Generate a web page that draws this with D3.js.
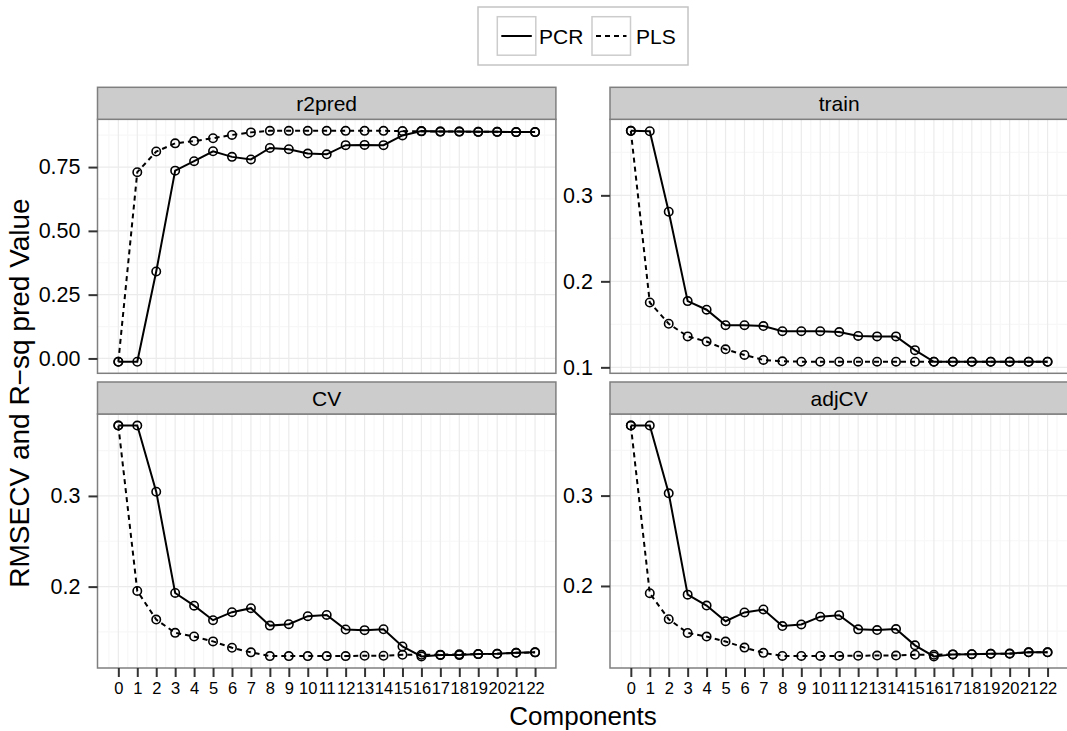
<!DOCTYPE html>
<html>
<head>
<meta charset="utf-8">
<script src="https://cdn.jsdelivr.net/npm/d3@7"></script>
<style>
  html, body { margin: 0; padding: 0; background: #ffffff; }
  svg { display: block; font-family: "Liberation Sans", Arial, Helvetica, sans-serif; }
</style>
</head>
<body>
<svg id="chart" width="1067" height="731"></svg>
<script>
// ---------------- data ----------------
const components = [0,1,2,3,4,5,6,7,8,9,10,11,12,13,14,15,16,17,18,19,20,21,22];
const xTickLabels = ["0","1","2","3","4","5","6","7","8","9","10","11","12","13","14","15","16","17","18","19","20","21","22"];
const facetNames = ["r2pred", "train", "CV", "adjCV"];
const seriesNames = ["PCR", "PLS"];

const r2predPCR = [-0.013,-0.013,0.341,0.736,0.773,0.812,0.790,0.780,0.825,0.820,0.803,0.800,0.836,0.837,0.836,0.874,0.891,0.889,0.889,0.888,0.888,0.887,0.887];
const r2predPLS = [-0.013,0.730,0.811,0.843,0.852,0.863,0.876,0.886,0.892,0.892,0.892,0.892,0.892,0.892,0.892,0.891,0.890,0.889,0.889,0.888,0.888,0.887,0.887];

const trainPCR = [0.375,0.3746,0.281,0.177,0.167,0.149,0.149,0.148,0.142,0.142,0.142,0.141,0.1365,0.136,0.136,0.120,0.1065,0.1065,0.1065,0.1065,0.1065,0.1065,0.1065];
const trainPLS = [0.375,0.1754,0.1507,0.136,0.130,0.121,0.1144,0.1086,0.107,0.1066,0.1066,0.1066,0.1066,0.1066,0.1066,0.1066,0.1065,0.1065,0.1065,0.1065,0.1065,0.1065,0.1065];

const cvPCR = [0.3776,0.3776,0.3047,0.193,0.179,0.163,0.1718,0.1762,0.157,0.1586,0.1674,0.1688,0.1527,0.152,0.153,0.134,0.123,0.1245,0.1245,0.1256,0.126,0.127,0.1275];
const cvPLS = [0.3776,0.1952,0.1637,0.149,0.145,0.1396,0.1326,0.1275,0.1234,0.1234,0.1234,0.1234,0.1234,0.1238,0.1238,0.1248,0.1248,0.125,0.1253,0.1256,0.1259,0.127,0.1275];

const adjcvPCR = [0.3775,0.3775,0.3025,0.1904,0.1783,0.161,0.1707,0.174,0.1556,0.1574,0.166,0.1677,0.152,0.1512,0.1523,0.1343,0.122,0.1243,0.1245,0.125,0.1253,0.1266,0.1266];
const adjcvPLS = [0.3775,0.192,0.1632,0.148,0.144,0.1385,0.1318,0.126,0.1226,0.1226,0.1226,0.1226,0.1228,0.123,0.123,0.1239,0.1239,0.1243,0.1245,0.1249,0.1249,0.1266,0.1266];

const r2predTicks = [0, 0.25, 0.5, 0.75];
const r2predTickLabels = ["0.00", "0.25", "0.50", "0.75"];
const rmseTicks = [0.1, 0.2, 0.3];
const rmseTickLabels = ["0.1", "0.2", "0.3"];

const xTitle = "Components";
const yTitle = "RMSECV and R\u2212sq pred Value";

// ---------------- layout ----------------
const svg = d3.select("#chart");
const panelW = 458.4, panelH = 254, stripH = 32;
const colX = [97.5, 610];
const rowY = [119.3, 414];

const facetData = {
  r2pred: [r2predPCR, r2predPLS],
  train:  [trainPCR, trainPLS],
  CV:     [cvPCR, cvPLS],
  adjCV:  [adjcvPCR, adjcvPLS]
};
const facetTicks = {
  r2pred: [r2predTicks, r2predTickLabels],
  train: [rmseTicks, rmseTickLabels],
  CV: [rmseTicks, rmseTickLabels],
  adjCV: [rmseTicks, rmseTickLabels]
};

const x = d3.scaleLinear().domain([-1.1, 23.1]).range([0, panelW]);
const dash = { PCR: null, PLS: "5,4" };

facetNames.forEach((name, i) => {
  const col = i % 2, row = Math.floor(i / 2);
  const px = colX[col], py = rowY[row];
  const series = facetData[name];
  const all = series.flat();
  const ext = d3.extent(all);
  const pad = (ext[1] - ext[0]) * 0.05;
  const y = d3.scaleLinear().domain([ext[0] - pad, ext[1] + pad]).range([panelH, 0]);
  const inDom = v => v >= y.domain()[0] && v <= y.domain()[1];

  const g = svg.append("g").attr("transform", `translate(${px},${py})`);

  g.append("rect").attr("width", panelW).attr("height", panelH).attr("fill", "#ffffff");

  // minor grid
  const [majT, majL] = facetTicks[name];
  const step = majT[1] - majT[0];
  const minorY = [];
  for (let k = -1; k < majT.length; k++) {
    const v = majT[0] + step * (k + 0.5);
    if (inDom(v)) minorY.push(v);
  }
  const minorX = d3.range(-0.5, 23, 1);
  g.selectAll(".mgx").data(minorX).enter().append("line")
    .attr("x1", d => x(d)).attr("x2", d => x(d)).attr("y1", 0).attr("y2", panelH)
    .attr("stroke", "#f7f7f7").attr("stroke-width", 1.2);
  g.selectAll(".mgy").data(minorY).enter().append("line")
    .attr("y1", d => y(d)).attr("y2", d => y(d)).attr("x1", 0).attr("x2", panelW)
    .attr("stroke", "#f7f7f7").attr("stroke-width", 1.2);
  // major grid
  g.selectAll(".Mgx").data(components).enter().append("line")
    .attr("x1", d => x(d)).attr("x2", d => x(d)).attr("y1", 0).attr("y2", panelH)
    .attr("stroke", "#ebebeb").attr("stroke-width", 1.2);
  const tickIdx = majT.map((v, k) => k).filter(k => inDom(majT[k]));
  const tv = tickIdx.map(k => majT[k]);
  const tl = tickIdx.map(k => majL[k]);
  g.selectAll(".Mgy").data(tv).enter().append("line")
    .attr("y1", d => y(d)).attr("y2", d => y(d)).attr("x1", 0).attr("x2", panelW)
    .attr("stroke", "#ebebeb").attr("stroke-width", 1.2);

  // lines and points
  series.forEach((vals, s) => {
    const pts = components.map((c, k) => [c, vals[k]]);
    const line = d3.line().x(d => x(d[0])).y(d => y(d[1]));
    g.append("path").datum(pts).attr("d", line)
      .attr("fill", "none").attr("stroke", "#000").attr("stroke-width", 2)
      .attr("stroke-dasharray", dash[seriesNames[s]]);
  });
  series.forEach((vals) => {
    g.selectAll(null).data(components.map((c, k) => [c, vals[k]])).enter().append("circle")
      .attr("cx", d => x(d[0])).attr("cy", d => y(d[1])).attr("r", 4.2)
      .attr("fill", "none").attr("stroke", "#000").attr("stroke-width", 1.6);
  });

  // panel border
  g.append("rect").attr("width", panelW).attr("height", panelH)
    .attr("fill", "none").attr("stroke", "#7f7f7f").attr("stroke-width", 1.5);

  // strip
  g.append("rect").attr("x", 0).attr("y", -stripH).attr("width", panelW).attr("height", stripH)
    .attr("fill", "#cccccc").attr("stroke", "#7f7f7f").attr("stroke-width", 1.5);
  g.append("text").attr("x", panelW / 2).attr("y", -stripH / 2 + 7.5)
    .attr("text-anchor", "middle").attr("font-size", 21).attr("fill", "#000").text(name);

  // y axis
  const yAxis = d3.axisLeft(y).tickValues(tv).tickFormat((d, k) => tl[k]).tickSize(9).tickPadding(8);
  const ya = g.append("g").call(yAxis);
  ya.select(".domain").remove();
  ya.selectAll(".tick line").attr("stroke", "#333").attr("stroke-width", 2);
  ya.selectAll(".tick text").attr("font-size", 21.5).attr("fill", "#000")
    .attr("font-family", "Liberation Sans, Arial, sans-serif");

  // x axis only bottom row
  if (row === 1) {
    const xAxis = d3.axisBottom(x).tickValues(components).tickFormat((d, k) => xTickLabels[k]).tickSize(9).tickPadding(5);
    const xa = g.append("g").attr("transform", `translate(0,${panelH})`).call(xAxis);
    xa.select(".domain").remove();
    xa.selectAll(".tick line").attr("stroke", "#333").attr("stroke-width", 2);
    xa.selectAll(".tick text").attr("font-size", 16.5).attr("fill", "#000")
      .attr("font-family", "Liberation Sans, Arial, sans-serif");
  }
});

// axis titles
svg.append("text").attr("x", 583).attr("y", 725).attr("text-anchor", "middle")
  .attr("font-size", 26).attr("fill", "#000").text(xTitle);
svg.append("text").attr("transform", "translate(29,393) rotate(-90)").attr("text-anchor", "middle")
  .attr("font-size", 28).attr("fill", "#000").text(yTitle);

// legend
const lg = svg.append("g");
lg.append("rect").attr("x", 478).attr("y", 7).attr("width", 210).attr("height", 58)
  .attr("fill", "#fff").attr("stroke", "#c4c4c4").attr("stroke-width", 1.5);
const keyX = [497.3, 592];
const textX = [539, 636];
seriesNames.forEach((s, k) => {
  lg.append("rect").attr("x", keyX[k]).attr("y", 16.7).attr("width", 38.5).attr("height", 38.5)
    .attr("fill", "#fff").attr("stroke", "#cccccc").attr("stroke-width", 1.5);
  lg.append("line").attr("x1", keyX[k] + 4).attr("x2", keyX[k] + 34.5)
    .attr("y1", 36).attr("y2", 36).attr("stroke", "#000").attr("stroke-width", 2)
    .attr("stroke-dasharray", dash[s]);
  lg.append("text").attr("x", textX[k]).attr("y", 43.5).attr("font-size", 21)
    .attr("fill", "#000").text(s);
});
</script>
</body>
</html>
